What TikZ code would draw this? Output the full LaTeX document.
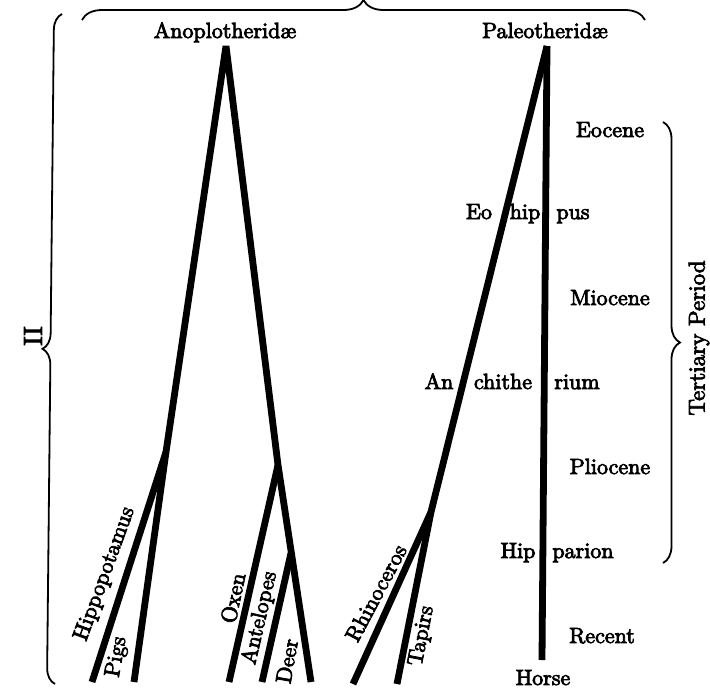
\documentclass[tikz,border=0pt]{standalone}
\usepackage{fontspec}
\setmainfont{lmroman10-regular.otf}[FakeBold=3.5]
\usetikzlibrary{decorations.pathreplacing}
\begin{document}
\begin{tikzpicture}[x=1pt,y=-1pt,
  stem/.style={line width=6.8pt, line cap=butt, line join=bevel},
  lbl/.style={font=\fontsize{22}{26}\selectfont, inner sep=0pt, anchor=base},
  rlbl/.style={font=\fontsize{22}{26}\selectfont, inner sep=0pt},
  brc/.style={decorate, decoration={brace, amplitude=#1}, line width=1.8pt}]
\useasboundingbox (0,0) rectangle (710,689);
% coordinates of the two trees
\coordinate (A) at (226,46);
\coordinate (H) at (166,452);
\coordinate (HipE) at (92,682);
\coordinate (PigE) at (134,682);
\coordinate (O) at (278,465);
\coordinate (OxE) at (229,682);
\coordinate (An) at (291,553);
\coordinate (AntE) at (262,682);
\coordinate (DeerE) at (311,682);
\coordinate (P) at (547,46);
\coordinate (HorseE) at (542,660);
\coordinate (R) at (431,512);
\coordinate (RhE) at (353,684);
\coordinate (TaE) at (397,684);
% braces
\coordinate (tb1) at (82,20); \coordinate (tb2) at (645,20);
\coordinate (lb1) at (55,684); \coordinate (lb2) at (62,14);
\coordinate (rb1) at (663,122); \coordinate (rb2) at (663,563);
\draw[brc=20pt] (tb1) -- (tb2);
\draw[brc=16pt, decoration={aspect=0.5}] (lb1) -- (lb2);
\draw[brc=17pt] (rb1) -- (rb2);
% stems
\draw[stem] (PigE) -- (H) -- (A) -- (O) -- (DeerE);
\draw[stem] (H) -- (HipE);
\draw[stem] (O) -- (OxE);
\draw[stem] (An) -- (AntE);
\draw[stem] (P) -- (HorseE);
\draw[stem] (P) -- (R) -- (TaE);
\draw[stem] (R) -- (RhE);
% labels
\node[lbl] (anop) at (225,38) {Anoplotherid\ae};
\node[lbl] (paleo) at (545,38) {Paleotherid\ae};
\node[lbl] (eoc) at (610,137) {Eocene};
\node[lbl] (mio) at (610,305) {Miocene};
\node[lbl] (pli) at (610,474) {Pliocene};
\node[lbl] (rec) at (602,643) {Recent};
\node[lbl] (horse) at (543,685) {Horse};
\node[lbl] (eo1) at (479,219) {Eo};
\node[lbl] (eo2) at (525,219) {hip};
\node[lbl] (eo3) at (573,219) {pus};
\node[lbl] (an1) at (439,389) {An};
\node[lbl] (an2) at (503,389) {chithe};
\node[lbl] (an3) at (577,389) {rium};
\node[lbl] (hp1) at (518,558) {Hip};
\node[lbl] (hp2) at (583,558) {parion};
\node[rlbl, rotate=70] (hippo) at (105,574) {Hippopotamus};
\node[rlbl, rotate=80] (pigs) at (117,657) {Pigs};
\node[rlbl, rotate=78] (oxen) at (233,598) {Oxen};
\node[rlbl, rotate=77] (ant) at (260,618) {Antelopes};
\node[rlbl, rotate=80] (deer) at (287,661) {Deer};
\node[rlbl, rotate=62] (rhino) at (376,593) {Rhinoceros};
\node[rlbl, rotate=79] (tapirs) at (422,636) {Tapirs};
\node[rlbl, rotate=90, font=\fontsize{26}{30}\selectfont] (two) at (33,336) {II};
\node[rlbl, rotate=90, font=\fontsize{23}{27}\selectfont] (tert) at (699,338) {Tertiary Period};
\end{tikzpicture}
\end{document}
